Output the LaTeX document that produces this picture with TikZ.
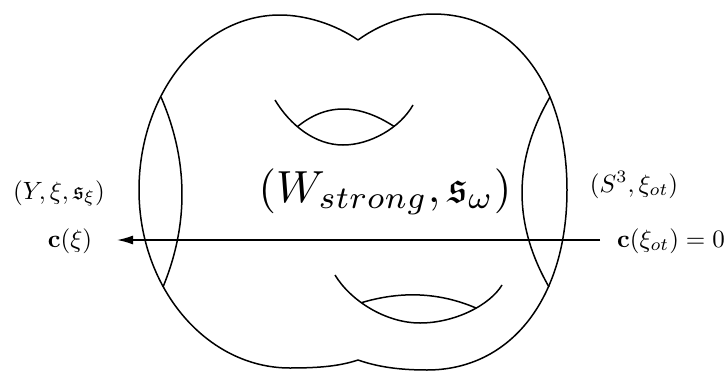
\documentclass[tikz,border=0pt]{standalone}
\usepackage{amssymb}
\usepackage{graphicx}
\usetikzlibrary{arrows.meta}
\begin{document}
\begin{tikzpicture}[x=1pt,y=-1pt,
  curve/.style={line width=1.5pt, line join=round},
  lbl/.style={anchor=base, inner sep=0pt, scale=2.5},
  big/.style={anchor=base, inner sep=0pt, scale=4.5}]
\useasboundingbox (0,0) rectangle (728,372);
% outline, left half
\draw[curve] (358,40) .. controls (335,24) and (305,15) .. (280,15)
  .. controls (202,15) and (139,93.3) .. (139,190)
  .. controls (139,288.3) and (206.6,368) .. (290,368)
  .. controls (320,368) and (340,366) .. (358,360);
% outline, right half
\draw[curve] (358,40) .. controls (380,24) and (408,14) .. (433,14)
  .. controls (513.4,14) and (567,84.4) .. (567,190)
  .. controls (567,298) and (511,370) .. (427,370)
  .. controls (400,370) and (378,367) .. (358,360);
% end caps
\draw[curve] (161,97) .. controls (188.3,160.3) and (189,223.7) .. (163,287);
\draw[curve] (550,97) .. controls (513,160.3) and (512.7,223.7) .. (549,287);
% top handle
\draw[curve] (275,100) .. controls (290,125) and (315,145) .. (343,145)
  .. controls (370,145) and (400,128) .. (413,105);
\draw[curve] (297.4,126.7) .. controls (326,103.2) and (358.2,103.1) .. (394,126.4);
% bottom handle
\draw[curve] (335,275) .. controls (350,300) and (385,323) .. (420,323)
  .. controls (455,323) and (490,305) .. (502,285);
\draw[curve] (361.4,302.7) .. controls (401.3,290.7) and (439.5,292.4) .. (476,308);
% labels
\node[lbl] (yxi) at (59,199) {$(Y,\xi,\mathfrak{s}_\xi)$};
\node[lbl] (cxi) at (70,247) {$\mathbf{c}(\xi)$};
\node[lbl] (s3) at (634,192) {$(S^3,\xi_{ot})$};
\node[lbl] (cot) at (671,247) {$\mathbf{c}(\xi_{ot})=0$};
\node[big] (w) at (385,202) {$(W_{strong},\mathfrak{s}_\omega)$};
% arrow
\coordinate (arrS) at (600,240);
\coordinate (arrE) at (117,240);
\draw[line width=1.5pt,-{Latex[length=16pt,width=9pt]}] (arrS) -- (arrE);
\end{tikzpicture}
\end{document}
